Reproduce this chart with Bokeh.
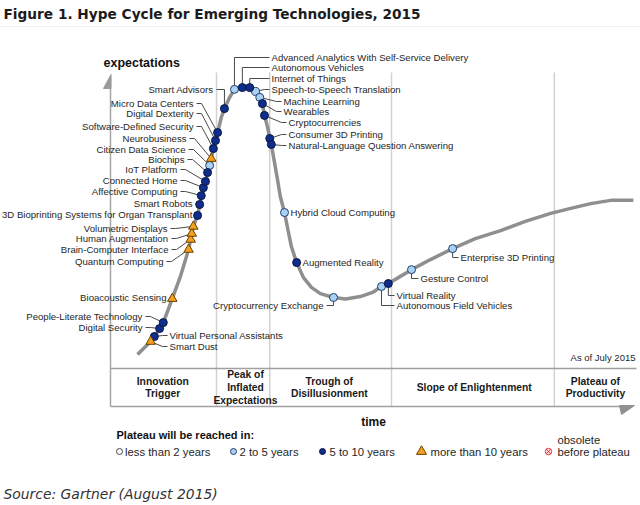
from bokeh.plotting import figure
from bokeh.models import Range1d, ColumnDataSource
from bokeh.core.properties import value
from bokeh.embed import file_html
from bokeh.resources import INLINE

# ---------------- data ----------------
# hype curve (time 0..100, expectations 0..100)
curve_time = [5.5, 8.0, 8.7, 9.7, 10.4, 12.1, 13.7, 15.2, 16.1, 16.9, 17.7, 18.4, 19.2, 19.9,
              20.7, 21.4, 22.0, 23.0, 23.9, 24.7, 25.4, 26.8, 27.9, 28.7, 29.2, 29.6, 30.2,
              30.6, 30.9, 31.5, 32.1, 32.6, 33.4, 34.0, 34.7, 35.7, 37.0, 38.5, 40.2, 42.7,
              45.0, 47.8, 50.1, 51.8, 53.1, 55.0, 57.5, 61.1, 65.3, 69.6, 74.4, 79.1, 83.9,
              87.7, 91.5, 95.3, 99.6]
curve_exp = [4.7, 9.1, 10.8, 13.5, 15.5, 23.6, 31.4, 40.2, 48.0, 51.7, 58.4, 63.2, 68.6, 74.3,
             79.7, 84.8, 87.8, 91.6, 94.3, 94.9, 95.3, 94.9, 93.6, 91.6, 89.5, 85.5, 81.4,
             77.7, 75.7, 69.6, 63.5, 58.1, 52.7, 47.3, 41.2, 35.8, 30.7, 27.4, 25.3, 24.0,
             23.5, 24.3, 25.7, 27.7, 28.7, 30.7, 33.4, 36.8, 40.5, 43.9, 46.6, 49.7, 52.4,
             54.1, 55.7, 56.8, 56.8]

tech_names = [
    "Smart Dust", "Virtual Personal Assistants", "Digital Security", "People-Literate Technology",
    "Bioacoustic Sensing", "Quantum Computing", "Brain-Computer Interface", "Human Augmentation",
    "Volumetric Displays", "3D Bioprinting Systems for Organ Transplant", "Smart Robots",
    "Affective Computing", "Connected Home", "IoT Platform", "Biochips", "Citizen Data Science",
    "Neurobusiness", "Software-Defined Security", "Digital Dexterity", "Micro Data Centers",
    "Smart Advisors", "Advanced Analytics With Self-Service Delivery", "Autonomous Vehicles",
    "Internet of Things", "Speech-to-Speech Translation", "Machine Learning", "Wearables",
    "Cryptocurrencies", "Consumer 3D Printing", "Natural-Language Question Answering",
    "Hybrid Cloud Computing", "Augmented Reality", "Cryptocurrency Exchange",
    "Autonomous Field Vehicles", "Virtual Reality", "Gesture Control", "Enterprise 3D Printing"]
tech_time = [8.0, 8.7, 9.7, 10.4, 12.1, 15.2, 15.6, 15.8, 16.1, 16.9, 17.3, 17.6, 18.0, 18.4,
             18.8, 19.2, 19.5, 19.9, 20.3, 20.7, 22.0, 23.9, 25.4, 26.8, 27.9, 28.7, 29.2,
             29.6, 30.6, 30.9, 33.4, 35.7, 42.7, 51.8, 53.1, 57.5, 65.3]
tech_exp = [9.1, 10.8, 13.5, 15.5, 23.6, 40.2, 43.6, 45.6, 48.0, 51.7, 55.4, 58.4, 61.1, 63.2,
            66.2, 68.6, 70.9, 74.3, 77.0, 79.7, 87.8, 94.3, 94.9, 94.9, 93.6, 91.6, 89.5,
            85.5, 77.7, 75.7, 52.7, 35.8, 24.0, 27.7, 28.7, 33.4, 40.5]
tech_plateau = ["gt10", "5to10", "5to10", "5to10", "gt10", "gt10", "gt10", "gt10", "gt10",
                "5to10", "5to10", "5to10", "5to10", "5to10", "5to10", "2to5", "gt10", "5to10",
                "5to10", "5to10", "5to10", "2to5", "5to10", "5to10", "2to5", "2to5", "5to10",
                "5to10", "5to10", "5to10", "2to5", "5to10", "2to5", "2to5", "5to10", "2to5",
                "2to5"]

phase_lines = [["Innovation", "Trigger"], ["Peak of", "Inflated", "Expectations"],
               ["Trough of", "Disillusionment"], ["Slope of Enlightenment"],
               ["Plateau of", "Productivity"]]
phase_center = [10.3, 26.0, 41.9, 69.4, 92.4]
phase_bound = [20.5, 30.6, 53.7, 84.6]

legend_keys = ["lt2", "2to5", "5to10", "gt10", "obs"]
legend_texts = ["less than 2 years", "2 to 5 years", "5 to 10 years", "more than 10 years",
                "before plateau"]

# ---------------- layout (pixel positions of annotations) ----------------
label_x = [169, 169, 142, 142, 166, 163, 168, 168, 167, 192, 192, 177, 177, 177, 184, 185,
           186, 193, 193, 193, 213, 271, 271, 271, 271, 283, 283, 288, 288, 288, 290, 302,
           323, 396, 396, 420, 460]
label_y = [346, 335, 327, 316, 297, 261, 249, 238, 228, 214, 203, 191, 180, 169, 159, 149,
           138, 126, 113, 103, 89, 57, 67, 78, 89, 101, 111, 122, 134, 145, 212, 262, 305,
           305, 295, 278, 257]
label_side = ["L", "L", "R", "R", "R", "R", "R", "R", "R", "R", "R", "R", "R", "R", "R", "R",
              "R", "R", "R", "R", "R", "L", "L", "L", "L", "L", "L", "L", "L", "L", "L", "L",
              "R", "L", "L", "L", "L"]
label_leader = ["diagR", "diagR", "diagL", "diagL", "diagL", "diagL", "diagL", "diagL", "diagL",
                "diagL", "diagL", "diagL", "diagL", "diagL", "diagL", "diagL", "diagL", "diagL",
                "diagL", "diagL", "elbowL", "elbowR", "elbowR", "elbowR", "diagR", "diagR",
                "diagR", "diagR", "diagR", "diagR", "none", "none", "elbowL", "elbowR",
                "elbowR", "elbowR", "elbowR"]

X0, XS, Y0, YS = 108.0, 5.27, 368.0, 2.96
W, H = 640, 505


def X(px):
    return (px - X0) / XS


def Y(py):
    return (Y0 - py) / YS


def PX(t):
    return X0 + t * XS


def PY(e):
    return Y0 - e * YS


p = figure(width=W, height=H, x_range=Range1d(X(0), X(W)), y_range=Range1d(Y(H), Y(0)),
           output_backend="svg", toolbar_location=None, min_border=0)
p.xaxis.visible = False
p.yaxis.visible = False
p.grid.visible = False
p.outline_line_color = None
p.background_fill_color = "white"
p.border_fill_color = "white"


def txt(xs, ys, texts, size, font="Liberation Sans", style="normal", align="left",
        color="#262626"):
    src = ColumnDataSource(dict(x=[X(v) for v in xs], y=[Y(v) for v in ys], t=texts))
    p.text("x", "y", text="t", source=src, text_font=value(font),
           text_font_size=value(f"{size}px"), text_font_style=style, text_align=align,
           text_baseline="middle", text_color=color)


# title & separator
txt([3], [13], ["Figure 1. Hype Cycle for Emerging Technologies, 2015"], 13.7,
    font="DejaVu Sans", style="bold", color="#1c1c1c")
p.line([X(0), X(W)], [Y(26), Y(26)], line_color="#eeeeee", line_width=1)

# phase dividers
for b in phase_bound:
    p.line([b, b], [Y(72), Y(406)], line_color="#d2d2d2", line_width=1.5)

# axes
p.line([X(110), X(110)], [Y(76), Y(406)], line_color="#a6a6a6", line_width=1.5)
p.patch([X(103), X(110.5), X(110.5)], [Y(88), Y(74), Y(88)], color="#9a9a9a")
p.line([X(110), X(636)], [Y(368), Y(368)], line_color="#a0a0a0", line_width=1.5)
p.line([X(110), X(622)], [Y(406), Y(406)], line_color="#a0a0a0", line_width=1.5)
p.patch([X(619), X(634), X(621)], [Y(405), Y(405), Y(414)], color="#909090")

# curve
p.line(curve_time, curve_exp, line_color="#8f8f8f", line_width=3.5, line_join="round")

# leaders
lxs, lys = [], []
for i in range(len(tech_names)):
    mx, my = PX(tech_time[i]), PY(tech_exp[i])
    lx, ly = label_x[i], label_y[i]
    k = label_leader[i]
    if k == "diagL":
        pts = [(lx + 3, ly), (lx + 8, ly), (mx, my)]
    elif k == "elbowL":
        pts = [(lx + 3, ly), (mx, ly), (mx, my)]
    elif k == "diagR":
        pts = [(mx, my), (lx - 7, ly), (lx - 2, ly)]
    elif k == "elbowR":
        pts = [(mx, my), (mx, ly), (lx - 2, ly)]
    else:
        continue
    lxs.append([X(a) for a, _ in pts])
    lys.append([Y(b) for _, b in pts])
p.multi_line(lxs, lys, line_color="#4a4a4a", line_width=1)

# markers
styles = {
    "lt2": dict(marker="circle", size=8, fill_color="white", line_color="#444444"),
    "2to5": dict(marker="circle", size=8, fill_color="#a8d2f4", line_color="#243c6c"),
    "5to10": dict(marker="circle", size=8, fill_color="#0f2d8c", line_color="#0a1640"),
    "gt10": dict(marker="triangle", size=9.5, fill_color="#f5a01c", line_color="#6a4300"),
    "obs": dict(marker="circle_x", size=8.5, fill_color="#fcd6da", line_color="#e8404f"),
}
for key in ["2to5", "5to10", "gt10"]:
    xs = [tech_time[i] for i in range(len(tech_names)) if tech_plateau[i] == key]
    ys = [tech_exp[i] for i in range(len(tech_names)) if tech_plateau[i] == key]
    p.scatter(xs, ys, line_width=1, **styles[key])

# technology labels
for side, align in (("R", "right"), ("L", "left")):
    idx = [i for i in range(len(tech_names)) if label_side[i] == side]
    txt([label_x[i] for i in idx], [label_y[i] for i in idx], [tech_names[i] for i in idx],
        9.6, align=align)

# axis titles
txt([103], [62], ["expectations"], 12.5, style="bold", color="#111111")
txt([373], [421], ["time"], 12, style="bold", align="center", color="#111111")
txt([635], [357], ["As of July 2015"], 9.5, align="right")

# phase names
pxs, pys, pts_ = [], [], []
for c, lines in zip(phase_center, phase_lines):
    n = len(lines)
    for j, s in enumerate(lines):
        pxs.append(PX(c))
        pys.append(387 + (j - (n - 1) / 2) * 12.8)
        pts_.append(s)
txt(pxs, pys, pts_, 10.3, style="bold", align="center", color="#1a1a1a")

# legend
txt([116], [434], ["Plateau will be reached in:"], 11, style="bold", color="#111111")
leg_mx = [119, 233, 322, 421, 548]
leg_tx = [124.5, 239, 329, 430, 557]
for k, mx in zip(legend_keys, leg_mx):
    st = dict(styles[k])
    st["size"] = st["size"] - 2 if k != "gt10" else 10
    p.scatter([X(mx)], [Y(451)], line_width=1, **st)
txt(leg_tx, [451] * 5, legend_texts, 11.3)
txt([557], [439], ["obsolete"], 11.3)

# source
txt([3], [493], ["Source: Gartner (August 2015)"], 13.9, font="DejaVu Sans", style="italic",
    color="#333333")

open("out.html", "w").write(file_html(p, INLINE))
